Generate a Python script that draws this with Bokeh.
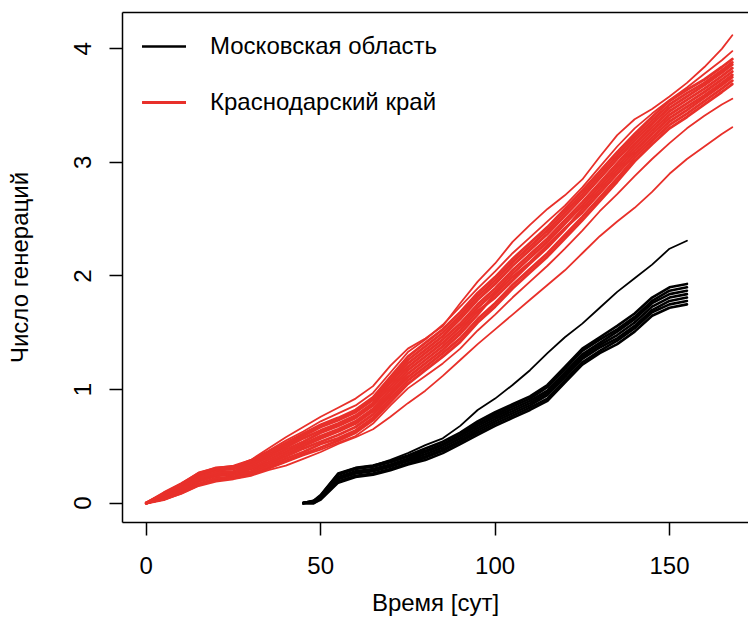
from bokeh.plotting import figure
from bokeh.models import FixedTicker, LinearAxis, Legend, LegendItem, Range1d
from bokeh.embed import file_html
from bokeh.resources import INLINE

# ---------------- data ----------------
x_ticks = [0, 50, 100, 150]
y_ticks = [0, 1, 2, 3, 4]
legend_labels = ["Московская область", "Краснодарский край"]
x_title = "Время [сут]"
y_title = "Число генераций"

# Krasnodar region runs (days since start -> cumulative generations)
days_krd = [0, 5, 10, 15, 20, 25, 30, 35, 40, 45, 50, 55, 60, 65, 70, 75, 80, 85,
            90, 95, 100, 105, 110, 115, 120, 125, 130, 135, 140, 145, 150, 155,
            160, 165, 168]

krd_band = [
    [0.00, 0.03, 0.09, 0.16, 0.21, 0.22, 0.25, 0.31, 0.37, 0.43, 0.49, 0.55, 0.62, 0.73, 0.89, 1.05, 1.17, 1.29,
     1.42, 1.59, 1.73, 1.89, 2.03, 2.17, 2.33, 2.49, 2.66, 2.83, 3.01, 3.16, 3.30, 3.40, 3.51, 3.62, 3.69],
    [0.00, 0.04, 0.10, 0.17, 0.22, 0.23, 0.27, 0.33, 0.39, 0.45, 0.52, 0.57, 0.64, 0.75, 0.92, 1.08, 1.20, 1.32,
     1.45, 1.62, 1.76, 1.92, 2.06, 2.20, 2.36, 2.52, 2.69, 2.86, 3.04, 3.19, 3.33, 3.43, 3.54, 3.65, 3.72],
    [0.00, 0.05, 0.11, 0.19, 0.24, 0.25, 0.28, 0.35, 0.41, 0.48, 0.54, 0.60, 0.67, 0.78, 0.95, 1.11, 1.23, 1.35,
     1.49, 1.66, 1.84, 1.99, 2.12, 2.27, 2.42, 2.56, 2.73, 2.90, 3.07, 3.22, 3.36, 3.46, 3.57, 3.68, 3.75],
    [0.00, 0.05, 0.12, 0.20, 0.25, 0.26, 0.30, 0.36, 0.43, 0.50, 0.57, 0.63, 0.70, 0.81, 0.97, 1.14, 1.26, 1.38,
     1.52, 1.69, 1.81, 1.96, 2.11, 2.25, 2.41, 2.59, 2.76, 2.93, 3.10, 3.25, 3.39, 3.49, 3.59, 3.70, 3.77],
    [0.00, 0.06, 0.13, 0.21, 0.26, 0.27, 0.31, 0.38, 0.45, 0.52, 0.59, 0.65, 0.72, 0.83, 1.00, 1.17, 1.29, 1.41,
     1.55, 1.72, 1.86, 2.02, 2.16, 2.30, 2.46, 2.62, 2.79, 2.96, 3.13, 3.28, 3.42, 3.52, 3.62, 3.73, 3.80],
    [0.00, 0.07, 0.14, 0.22, 0.27, 0.28, 0.33, 0.40, 0.47, 0.54, 0.62, 0.68, 0.75, 0.86, 1.03, 1.20, 1.32, 1.44,
     1.58, 1.75, 1.89, 2.05, 2.19, 2.33, 2.49, 2.65, 2.82, 2.99, 3.16, 3.31, 3.45, 3.55, 3.65, 3.76, 3.83],
    [0.00, 0.08, 0.15, 0.24, 0.29, 0.30, 0.34, 0.42, 0.49, 0.57, 0.64, 0.70, 0.77, 0.88, 1.06, 1.23, 1.35, 1.47,
     1.62, 1.79, 1.93, 2.09, 2.23, 2.37, 2.53, 2.69, 2.86, 3.03, 3.19, 3.34, 3.48, 3.58, 3.68, 3.79, 3.86],
    [0.00, 0.08, 0.16, 0.25, 0.30, 0.31, 0.36, 0.43, 0.51, 0.59, 0.67, 0.73, 0.80, 0.91, 1.08, 1.26, 1.38, 1.50,
     1.65, 1.82, 1.96, 2.12, 2.26, 2.40, 2.56, 2.72, 2.89, 3.06, 3.22, 3.37, 3.51, 3.61, 3.70, 3.81, 3.88],
    [0.00, 0.09, 0.17, 0.26, 0.31, 0.32, 0.37, 0.45, 0.53, 0.61, 0.69, 0.75, 0.82, 0.93, 1.11, 1.29, 1.41, 1.53,
     1.68, 1.85, 1.99, 2.15, 2.29, 2.43, 2.59, 2.75, 2.92, 3.09, 3.25, 3.40, 3.54, 3.64, 3.73, 3.84, 3.91],
]
krd_high2 = [0.00, 0.09, 0.17, 0.27, 0.31, 0.33, 0.38, 0.46, 0.55, 0.63, 0.72, 0.79, 0.86, 0.97, 1.15, 1.33, 1.44, 1.57,
             1.73, 1.89, 2.04, 2.20, 2.34, 2.48, 2.62, 2.78, 2.96, 3.14, 3.30, 3.43, 3.55, 3.66, 3.78, 3.90, 3.98]
krd_high1 = [0.00, 0.08, 0.16, 0.25, 0.30, 0.32, 0.38, 0.48, 0.58, 0.67, 0.76, 0.84, 0.92, 1.03, 1.21, 1.36, 1.45, 1.56,
             1.76, 1.95, 2.11, 2.30, 2.45, 2.59, 2.71, 2.85, 3.05, 3.24, 3.38, 3.47, 3.58, 3.70, 3.84, 4.00, 4.12]
krd_low2 = [0.00, 0.03, 0.09, 0.16, 0.20, 0.22, 0.25, 0.30, 0.36, 0.42, 0.47, 0.53, 0.59, 0.70, 0.86, 1.01, 1.12, 1.23,
            1.36, 1.52, 1.66, 1.81, 1.95, 2.09, 2.24, 2.40, 2.57, 2.72, 2.88, 3.03, 3.17, 3.30, 3.41, 3.51, 3.56]
krd_low1 = [0.00, 0.03, 0.08, 0.15, 0.19, 0.21, 0.24, 0.29, 0.33, 0.39, 0.45, 0.52, 0.58, 0.65, 0.76, 0.88, 0.99, 1.12,
            1.26, 1.40, 1.53, 1.66, 1.79, 1.92, 2.05, 2.20, 2.35, 2.48, 2.60, 2.74, 2.90, 3.03, 3.14, 3.25, 3.31]

# Moscow region runs
days_msk = [45, 48, 50, 55, 60, 65, 70, 75, 80, 85, 90, 95, 100, 105, 110, 115, 120,
            125, 130, 135, 140, 145, 150, 155]
msk_band = [
    [0.00, 0.00, 0.03, 0.18, 0.23, 0.25, 0.29, 0.34, 0.38, 0.44, 0.52, 0.60, 0.68, 0.75, 0.82, 0.90, 1.06, 1.22,
     1.32, 1.40, 1.51, 1.65, 1.72, 1.75],
    [0.00, 0.00, 0.04, 0.19, 0.24, 0.26, 0.30, 0.35, 0.40, 0.46, 0.54, 0.62, 0.70, 0.77, 0.84, 0.92, 1.08, 1.24,
     1.34, 1.43, 1.54, 1.68, 1.75, 1.78],
    [0.00, 0.01, 0.04, 0.21, 0.26, 0.28, 0.32, 0.37, 0.41, 0.47, 0.55, 0.64, 0.72, 0.79, 0.86, 0.95, 1.11, 1.27,
     1.37, 1.45, 1.56, 1.70, 1.78, 1.81],
    [0.00, 0.01, 0.05, 0.22, 0.27, 0.29, 0.33, 0.38, 0.43, 0.49, 0.57, 0.66, 0.74, 0.81, 0.88, 0.97, 1.13, 1.29,
     1.39, 1.48, 1.59, 1.73, 1.81, 1.84],
    [0.00, 0.01, 0.06, 0.23, 0.28, 0.30, 0.34, 0.39, 0.45, 0.51, 0.59, 0.68, 0.76, 0.83, 0.90, 0.99, 1.15, 1.31,
     1.41, 1.51, 1.62, 1.76, 1.84, 1.87],
    [0.00, 0.02, 0.06, 0.25, 0.30, 0.32, 0.36, 0.41, 0.46, 0.52, 0.60, 0.70, 0.78, 0.85, 0.92, 1.02, 1.18, 1.34,
     1.44, 1.53, 1.64, 1.78, 1.87, 1.90],
    [0.00, 0.02, 0.07, 0.26, 0.31, 0.33, 0.37, 0.42, 0.48, 0.54, 0.62, 0.72, 0.80, 0.87, 0.94, 1.04, 1.20, 1.36,
     1.46, 1.56, 1.67, 1.81, 1.90, 1.93],
]
msk_high = [0.00, 0.02, 0.07, 0.26, 0.31, 0.33, 0.38, 0.44, 0.51, 0.57, 0.68, 0.82, 0.92, 1.04, 1.17, 1.32, 1.46, 1.58,
            1.72, 1.86, 1.98, 2.10, 2.24, 2.31]

# ---------------- styling ----------------
FONT = "Liberation Sans"
RED = "#e8302a"
BLACK = "#000000"

p = figure(width=748, height=639, output_backend="svg", toolbar_location=None,
           x_range=Range1d(-6.82, 172.64), y_range=Range1d(-0.171, 4.32),
           min_border_left=122, min_border_right=0, min_border_top=12, min_border_bottom=117,
           x_axis_label=x_title, y_axis_label=y_title)
p.outline_line_color = None
p.grid.visible = False
p.background_fill_color = "white"
p.border_fill_color = "white"

for ax in (p.xaxis[0], p.yaxis[0]):
    ax.axis_line_width = 1.5
    ax.axis_line_color = "black"
    ax.major_tick_line_width = 1.5
    ax.major_tick_line_color = "black"
    ax.major_tick_in = 0
    ax.major_tick_out = 13
    ax.minor_tick_line_color = None
    ax.major_label_text_font = FONT
    ax.major_label_text_font_size = "24px"
    ax.major_label_text_color = "black"
    ax.axis_label_text_font = FONT
    ax.axis_label_text_font_size = "24px"
    ax.axis_label_text_font_style = "normal"
    ax.axis_label_text_color = "black"

p.xaxis.ticker = FixedTicker(ticks=x_ticks)
p.yaxis.ticker = FixedTicker(ticks=y_ticks)
p.yaxis.major_label_orientation = "vertical"
p.xaxis.major_label_standoff = 21
p.yaxis.major_label_standoff = 18
p.xaxis.axis_label_standoff = 12
p.yaxis.axis_label_standoff = 39

# top border of the box (right side lies outside the picture)
top = LinearAxis(ticker=FixedTicker(ticks=[]), axis_line_width=1.5, axis_line_color="black",
                 major_tick_out=0, major_tick_in=0, minor_tick_out=0, minor_tick_in=0,
                 major_label_standoff=0, major_label_text_font_size="0px")
p.add_layout(top, "above")

# curves
r_msk = p.multi_line(xs=[days_msk] * len(msk_band), ys=msk_band, line_color=BLACK, line_width=2.6,
                     line_join="round", line_cap="round")
p.multi_line(xs=[days_msk], ys=[msk_high], line_color=BLACK, line_width=1.8,
             line_join="round", line_cap="round")

krd_extra = [krd_high2, krd_high1, krd_low2, krd_low1]
r_krd = p.multi_line(xs=[days_krd] * len(krd_band), ys=krd_band, line_color=RED, line_width=2.8,
                     line_join="round", line_cap="round")
p.multi_line(xs=[days_krd] * len(krd_extra), ys=krd_extra, line_color=RED, line_width=1.8,
             line_join="round", line_cap="round")

# legend (no box)
legend = Legend(items=[LegendItem(label=legend_labels[0], renderers=[r_msk]),
                       LegendItem(label=legend_labels[1], renderers=[r_krd])],
                location="top_left", margin=20, padding=0, spacing=28,
                glyph_width=44, glyph_height=28, label_height=28, label_standoff=24,
                label_text_font=FONT, label_text_font_size="24px", label_text_color="black",
                border_line_color=None, background_fill_alpha=0)
p.add_layout(legend)

open("out.html", "w").write(file_html(p, INLINE))
